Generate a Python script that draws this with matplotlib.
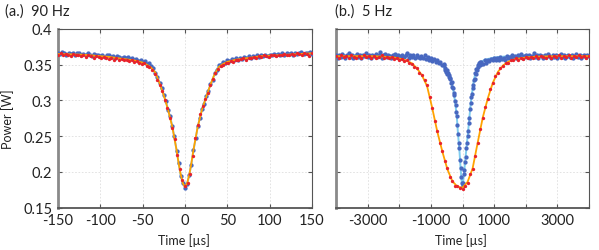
import numpy as np
import matplotlib
matplotlib.use("Agg")
import matplotlib.pyplot as plt

plt.rcParams['font.family'] = ['Lato', 'DejaVu Sans']
plt.rcParams['axes.unicode_minus'] = False

# ---------------- Panel (a) 90 Hz ----------------
a_blue_t = np.arange(-150, 150.1, 2.5)
a_blue_p = [0.367, 0.365, 0.368, 0.366, 0.364, 0.367, 0.365, 0.366, 0.364, 0.366,
            0.367, 0.364, 0.365, 0.363, 0.366, 0.364, 0.362, 0.365, 0.363, 0.364,
            0.362, 0.364, 0.361, 0.363, 0.364, 0.361, 0.362, 0.360, 0.362, 0.361,
            0.359, 0.361, 0.359, 0.361, 0.358, 0.360, 0.357, 0.358, 0.355, 0.357,
            0.354, 0.355, 0.351, 0.352, 0.348, 0.346, 0.338, 0.333, 0.324, 0.318,
            0.307, 0.299, 0.287, 0.278, 0.264, 0.251, 0.230, 0.213, 0.194, 0.185,
            0.178, 0.183, 0.196, 0.210, 0.231, 0.248, 0.264, 0.275, 0.288, 0.295,
            0.306, 0.313, 0.323, 0.329, 0.338, 0.343, 0.350, 0.350, 0.354, 0.353,
            0.356, 0.355, 0.358, 0.356, 0.359, 0.357, 0.360, 0.358, 0.361, 0.359,
            0.362, 0.360, 0.362, 0.361, 0.363, 0.361, 0.363, 0.362, 0.364, 0.362,
            0.364, 0.363, 0.365, 0.363, 0.365, 0.364, 0.366, 0.364, 0.366, 0.365,
            0.366, 0.364, 0.367, 0.365, 0.366, 0.368, 0.365, 0.367, 0.366, 0.368,
            0.365]

a_red_t = np.arange(-150, 150.1, 3)
a_red_p = [0.364, 0.366, 0.363, 0.365, 0.364, 0.362, 0.365, 0.363, 0.364, 0.362,
           0.364, 0.361, 0.363, 0.362, 0.360, 0.362, 0.361, 0.359, 0.361, 0.360,
           0.358, 0.360, 0.357, 0.359, 0.357, 0.358, 0.356, 0.357, 0.355, 0.356,
           0.354, 0.355, 0.352, 0.351, 0.352, 0.348, 0.347, 0.343, 0.337, 0.329,
           0.322, 0.313, 0.301, 0.289, 0.276, 0.262, 0.246, 0.224, 0.204, 0.189,
           0.180, 0.184, 0.197, 0.222, 0.247, 0.266, 0.281, 0.292, 0.302, 0.311,
           0.321, 0.330, 0.338, 0.344, 0.348, 0.350, 0.352, 0.353, 0.355, 0.354,
           0.357, 0.356, 0.358, 0.359, 0.357, 0.360, 0.359, 0.361, 0.360, 0.362,
           0.361, 0.363, 0.362, 0.361, 0.363, 0.364, 0.362, 0.364, 0.363, 0.365,
           0.364, 0.363, 0.365, 0.364, 0.366, 0.365, 0.363, 0.366, 0.365, 0.362,
           0.367]

a_fit_t = [-150, -120, -90, -60, -50, -45, -40, -35, -30, -25, -20, -15, -10, -7.5, -5,
           -2.5, 0, 2.5, 5, 7.5, 10, 15, 20, 25, 30, 35, 40, 45, 50, 60, 90, 120, 150]
a_red_fit = [0.365, 0.364, 0.361, 0.356, 0.353, 0.350, 0.346, 0.339, 0.324, 0.307,
             0.287, 0.263, 0.231, 0.212, 0.196, 0.184, 0.179, 0.184, 0.196, 0.212,
             0.231, 0.263, 0.287, 0.305, 0.322, 0.337, 0.347, 0.351, 0.354, 0.357,
             0.362, 0.364, 0.366]
a_blue_fit = [0.366, 0.3646, 0.362, 0.358, 0.355, 0.352, 0.349, 0.339, 0.325, 0.308,
              0.288, 0.265, 0.231, 0.212, 0.195, 0.184, 0.179, 0.184, 0.195, 0.211,
              0.230, 0.263, 0.287, 0.305, 0.322, 0.337, 0.349, 0.353, 0.355, 0.358,
              0.362, 0.3646, 0.3665]

# ---------------- Panel (b) 5 Hz ----------------
b_blue_left_t = np.arange(-4000, -599, 50)
b_blue_left_p = [0.363, 0.360, 0.364, 0.361, 0.365, 0.362, 0.359, 0.363, 0.366, 0.361,
                 0.364, 0.360, 0.362, 0.365, 0.361, 0.363, 0.359, 0.364, 0.362, 0.367,
                 0.361, 0.363, 0.360, 0.364, 0.362, 0.365, 0.361, 0.363, 0.368, 0.360,
                 0.363, 0.365, 0.361, 0.364, 0.362, 0.359, 0.363, 0.365, 0.361, 0.364,
                 0.362, 0.360, 0.364, 0.361, 0.363, 0.366, 0.360, 0.363, 0.361, 0.364,
                 0.360, 0.363, 0.361, 0.359, 0.362, 0.360, 0.363, 0.358, 0.361, 0.357,
                 0.359, 0.355, 0.358, 0.354, 0.356, 0.352, 0.354, 0.349, 0.351]
b_blue_core_t = np.arange(-580, 581, 20)
b_blue_core_p = [0.349, 0.343, 0.346, 0.340, 0.343, 0.337, 0.339, 0.333, 0.336, 0.330,
                 0.331, 0.325, 0.326, 0.319, 0.318, 0.311, 0.307, 0.299, 0.294, 0.284,
                 0.278, 0.265, 0.253, 0.241, 0.233, 0.217, 0.206, 0.193, 0.185, 0.180,
                 0.185, 0.197, 0.203, 0.214, 0.221, 0.233, 0.240, 0.251, 0.257, 0.269,
                 0.276, 0.288, 0.296, 0.305, 0.309, 0.317, 0.321, 0.328, 0.330, 0.338,
                 0.337, 0.344, 0.343, 0.349, 0.347, 0.352, 0.349, 0.354, 0.351]
b_blue_right_t = np.arange(600, 4001, 50)
b_blue_right_p = [0.354, 0.351, 0.356, 0.353, 0.357, 0.355, 0.358, 0.356, 0.360, 0.357,
                  0.359, 0.356, 0.361, 0.358, 0.360, 0.357, 0.362, 0.359, 0.361, 0.364,
                  0.359, 0.362, 0.360, 0.363, 0.361, 0.365, 0.360, 0.362, 0.364, 0.361,
                  0.363, 0.360, 0.362, 0.366, 0.361, 0.363, 0.360, 0.364, 0.362, 0.359,
                  0.363, 0.361, 0.365, 0.362, 0.360, 0.364, 0.361, 0.363, 0.359, 0.362,
                  0.365, 0.361, 0.363, 0.360, 0.362, 0.364, 0.361, 0.363, 0.360, 0.362,
                  0.365, 0.361, 0.363, 0.360, 0.362, 0.364, 0.361, 0.363, 0.362]

b_red_t = np.arange(-4000, 4001, 80)
b_red_p = [0.362, 0.360, 0.363, 0.361, 0.362, 0.360, 0.363, 0.361, 0.359, 0.362,
           0.360, 0.363, 0.361, 0.362, 0.360, 0.362, 0.359, 0.361, 0.363, 0.360,
           0.361, 0.359, 0.361, 0.358, 0.360, 0.357, 0.358, 0.355, 0.356, 0.352,
           0.351, 0.347, 0.345, 0.339, 0.336, 0.328, 0.321, 0.305, 0.290, 0.271,
           0.257, 0.241, 0.230, 0.215, 0.205, 0.193, 0.188, 0.181, 0.180, 0.177,
           0.176, 0.181, 0.185, 0.197, 0.204, 0.223, 0.240, 0.260, 0.275, 0.291,
           0.302, 0.316, 0.324, 0.334, 0.339, 0.346, 0.348, 0.353, 0.353, 0.357,
           0.356, 0.359, 0.357, 0.360, 0.358, 0.361, 0.359, 0.361, 0.360, 0.362,
           0.360, 0.362, 0.361, 0.359, 0.362, 0.360, 0.362, 0.361, 0.363, 0.360,
           0.362, 0.361, 0.363, 0.360, 0.362, 0.361, 0.363, 0.361, 0.362, 0.360,
           0.362]

b_red_fit_t = np.arange(-4000, 4001, 160)
b_red_fit = [0.362, 0.362, 0.362, 0.362, 0.362, 0.362, 0.362, 0.362, 0.3618, 0.3615,
             0.361, 0.3605, 0.3595, 0.358, 0.3555, 0.352, 0.345, 0.335, 0.320, 0.290,
             0.257, 0.229, 0.204, 0.187, 0.1795, 0.178, 0.186, 0.205, 0.241, 0.276,
             0.303, 0.325, 0.340, 0.349, 0.354, 0.357, 0.3585, 0.3595, 0.3605, 0.361,
             0.3613, 0.3615, 0.3617, 0.3618, 0.362, 0.362, 0.362, 0.362, 0.362, 0.362,
             0.362]

b_blue_fit_t = [-4000, -3000, -2000, -1500, -1200, -1000, -800, -700, -600, -500, -400,
                -350, -300, -260, -220, -180, -140, -100, -60, -30, 0, 30, 60, 100, 140,
                180, 220, 260, 300, 350, 400, 500, 600, 700, 800, 1000, 1200, 1500, 2000,
                3000, 4000]
b_blue_fit = [0.3625, 0.3625, 0.362, 0.361, 0.359, 0.357, 0.354, 0.351, 0.347, 0.341,
              0.332, 0.326, 0.317, 0.306, 0.293, 0.277, 0.252, 0.232, 0.205, 0.188,
              0.179, 0.190, 0.204, 0.222, 0.241, 0.258, 0.277, 0.296, 0.310, 0.326,
              0.337, 0.349, 0.354, 0.357, 0.358, 0.360, 0.361, 0.362, 0.3622, 0.3625,
              0.3625]

y_ticks = [0.15, 0.2, 0.25, 0.3, 0.35, 0.4]
y_tick_labels = ['0.15', '0.2', '0.25', '0.3', '0.35', '0.4']
a_xticks = [-150, -100, -50, 0, 50, 100, 150]
b_xticks = [-4000, -3000, -2000, -1000, 0, 1000, 2000, 3000, 4000]
b_xtick_labels = ['', '-3000', '', '-1000', '0', '1000', '', '3000', '']

BLUE = '#4868c0'
RED = '#e8232b'
ORANGE = '#ffa200'
LBLUE = '#80cdef'

fig = plt.figure(figsize=(5.99, 2.51), dpi=100)
W, H = 599, 251
bot = 1 - 208.7 / H
hgt = (208.7 - 30) / H
axA = fig.add_axes([58 / W, bot, (312 - 58) / W, hgt])
axB = fig.add_axes([336 / W, bot, (589 - 336) / W, hgt])


def style(ax):
    ax.set_ylim(0.15, 0.4)
    ax.set_yticks(y_ticks)
    ax.grid(True, color='#dedede', linestyle=(0, (2, 2)), linewidth=0.6)
    ax.set_axisbelow(True)
    ax.tick_params(direction='in', top=True, right=True, length=3, width=0.8,
                   color='#555555', labelsize=10.5, pad=4, labelcolor='#222222')
    ax.spines['left'].set_color('#8a8a8a')
    ax.spines['left'].set_linewidth(2.0)
    ax.spines['bottom'].set_color('#555555')
    ax.spines['bottom'].set_linewidth(1.3)
    for s in ('top', 'right'):
        ax.spines[s].set_color('#555555')
        ax.spines[s].set_linewidth(0.8)


style(axA)
axA.set_xlim(-150, 150)
axA.set_xticks(a_xticks)
axA.set_xticklabels([str(v) for v in a_xticks])
axA.set_yticklabels(y_tick_labels)
axA.plot(a_fit_t, a_blue_fit, color=LBLUE, lw=1.4, zorder=2)
axA.plot(a_blue_t, a_blue_p, 'o', color=BLUE, ms=3.1, mew=0, zorder=3)
axA.plot(a_fit_t, a_red_fit, color=ORANGE, lw=1.3, zorder=4)
axA.plot(a_red_t, a_red_p, 'o', color=RED, ms=2.4, mew=0, zorder=5)

style(axB)
axB.set_xlim(-4000, 4000)
axB.set_xticks(b_xticks)
axB.set_xticklabels(b_xtick_labels)
axB.set_yticklabels([])
axB.plot(b_blue_fit_t, b_blue_fit, color=LBLUE, lw=1.4, zorder=2)
for tt, pp in ((b_blue_left_t, b_blue_left_p), (b_blue_core_t, b_blue_core_p),
               (b_blue_right_t, b_blue_right_p)):
    axB.plot(tt, pp, 'o', color=BLUE, ms=3.1, mew=0, zorder=3)
axB.plot(b_red_fit_t, b_red_fit, color=ORANGE, lw=1.3, zorder=4)
axB.plot(b_red_t, b_red_p, 'o', color=RED, ms=2.4, mew=0, zorder=5)

fig.text(5 / W, 1 - 12 / H, '(a.)  90 Hz', ha='left', va='center', fontsize=10.5, color='#222222')
fig.text(335 / W, 1 - 12 / H, '(b.)  5 Hz', ha='left', va='center', fontsize=10.5, color='#222222')
fig.text(8 / W, 1 - 119 / H, 'Power [W]', rotation=90, ha='center', va='center',
         fontsize=9, color='#222222')
fig.text(184 / W, 1 - 241 / H, 'Time [µs]', ha='center', va='center', fontsize=9, color='#222222')
fig.text(461 / W, 1 - 241 / H, 'Time [µs]', ha='center', va='center', fontsize=9, color='#222222')

fig.savefig('out.png', dpi=100)
